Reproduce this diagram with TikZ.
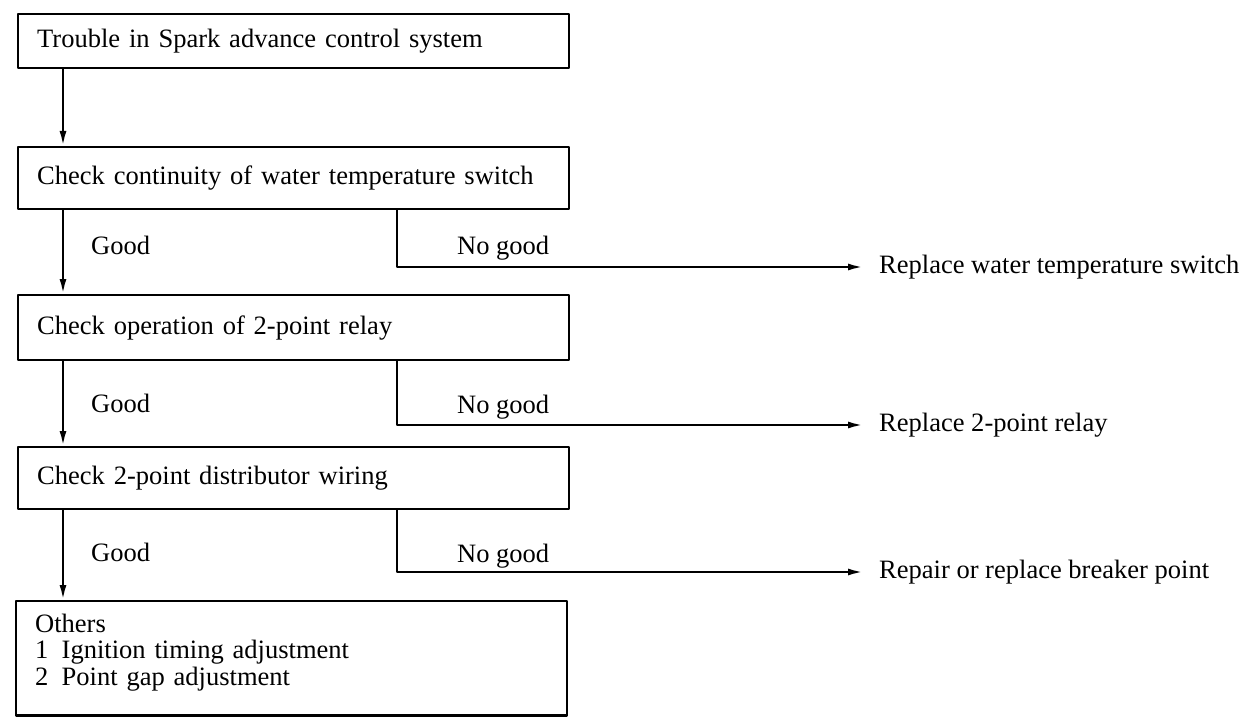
\documentclass[tikz,border=0pt]{standalone}
\usepackage{fontspec}
\setmainfont{Liberation Serif}
\usetikzlibrary{arrows.meta}
\tikzstyle{every node}=[font=\fontsize{15.1}{15}\selectfont]
\tikzstyle{every path}=[line width=1.3pt,line cap=round,line join=round]
\tikzstyle{chkbox}=[draw,anchor=north west,text width=10.26cm,inner xsep=0.38cm,minimum height=1.24cm,align=left]
\tikzstyle{result}=[anchor=west,inner xsep=0.3cm,inner ysep=0pt]
\tikzstyle{cond}=[anchor=west,inner sep=0pt]
\tikzstyle{flow}=[-{Latex[length=0.3cm,width=0.14cm]}]

\begin{document}
\begin{tikzpicture}[x=0.02cm,y=-0.02cm]
\useasboundingbox (0,0) rectangle (1250,719);
	\coordinate (trunk) at (63,0);
	\coordinate (branch) at (397,0);
%Check steps (left column)
	\node[chkbox,minimum height=1.08cm] (trouble) at (17,13) {Trouble in Spark advance control system};
	\node[chkbox] (chkswitch) at (17,146) {Check continuity of water temperature switch};
	\node[chkbox,minimum height=1.3cm] (chkrelay) at (17,294) {Check operation of 2-point relay};
	\node[chkbox] (chkwiring) at (17,446) {Check 2-point distributor wiring};
	\node[chkbox,inner ysep=0.26cm,text depth=1.4cm] (others) at (15,600) {Others\\1\enspace Ignition timing adjustment\\2\enspace Point gap adjustment};
%Remedies (right column)
	\node[result] (repswitch) at (863,267) {Replace water temperature switch};
	\node[result] (reprelay) at (863,425) {Replace 2-point relay};
	\node[result] (repbreaker) at (863,572) {Repair or replace breaker point};
%Good / No good
	\node[cond] (good1) at (90,245) {Good};
	\node[cond] (nogood1) at (456,248) {No good};
	\node[cond] (good2) at (90,403) {Good};
	\node[cond] (nogood2) at (456,407) {No good};
	\node[cond] (good3) at (90,552) {Good};
	\node[cond] (nogood3) at (456,556) {No good};
%Connectors
	\draw[flow] (trouble.south -| trunk) -- (chkswitch.north -| trunk);
	\draw[flow] (chkswitch.south -| trunk) -- (chkrelay.north -| trunk);
	\draw[flow] (chkrelay.south -| trunk) -- (chkwiring.north -| trunk);
	\draw[flow] (chkwiring.south -| trunk) -- (others.north -| trunk);
	\draw[flow] (chkswitch.south -| branch) |- (repswitch.west);
	\draw[flow] (chkrelay.south -| branch) |- (reprelay.west);
	\draw[flow] (chkwiring.south -| branch) |- (repbreaker.west);
\end{tikzpicture}
\end{document}
